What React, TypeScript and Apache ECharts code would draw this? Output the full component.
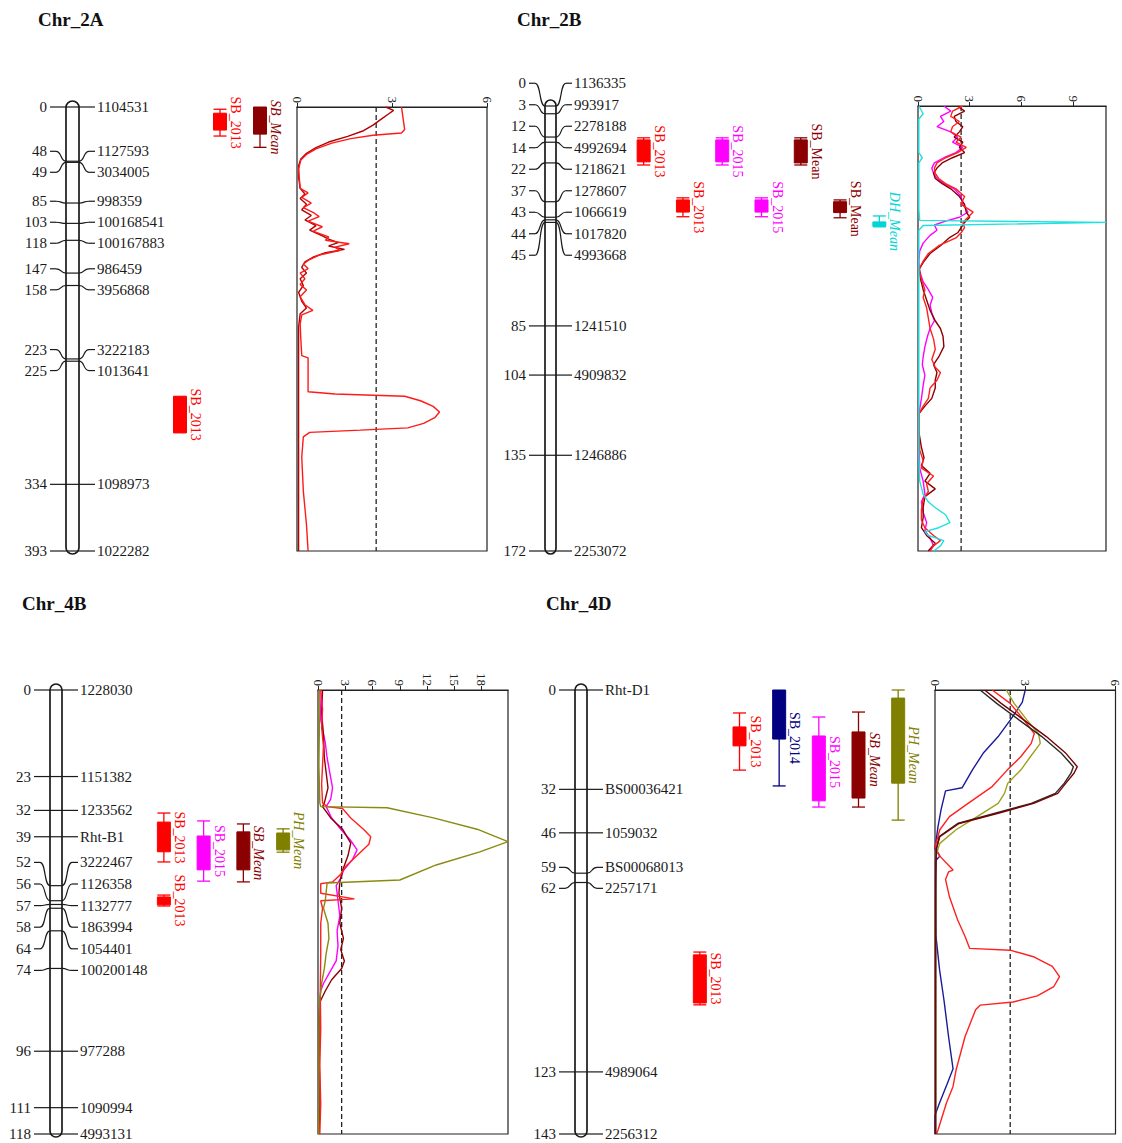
import React, { useEffect, useRef } from "react";
import * as echarts from "echarts";

const FONT = '"Liberation Serif", "Times New Roman", serif';

// ---------- chromosome maps (cM positions + marker names) ----------
const chr2A_pos = [0, 48, 49, 85, 103, 118, 147, 158, 223, 225, 334, 393];
const chr2A_names = ["1104531", "1127593", "3034005", "998359", "100168541", "100167883", "986459", "3956868", "3222183", "1013641", "1098973", "1022282"];
const chr2B_pos = [0, 3, 12, 14, 22, 37, 43, 44, 45, 85, 104, 135, 172];
const chr2B_names = ["1136335", "993917", "2278188", "4992694", "1218621", "1278607", "1066619", "1017820", "4993668", "1241510", "4909832", "1246886", "2253072"];
const chr4B_pos = [0, 23, 32, 39, 52, 56, 57, 58, 64, 74, 96, 111, 118];
const chr4B_names = ["1228030", "1151382", "1233562", "Rht-B1", "3222467", "1126358", "1132777", "1863994", "1054401", "100200148", "977288", "1090994", "4993131"];
const chr4D_pos = [0, 32, 46, 59, 62, 123, 143];
const chr4D_names = ["Rht-D1", "BS00036421", "1059032", "BS00068013", "2257171", "4989064", "2256312"];

// ---------- QTL intervals: [trait, column, whiskerLo, boxLo, boxHi, whiskerHi] (cM) ----------
const qtl2A = [
  ["SB_2013", 1, 2, 5.5, 20.4, 25.7],
  ["SB_Mean", 2, 0, 0, 24, 35.7],
  ["SB_2013", 0, 256, 256, 288.5, 288.5],
];
const qtl2B = [
  ["SB_2013", 0, 12.3, 13.1, 21.6, 22.8],
  ["SB_2013", 1, 35.5, 36.3, 41.0, 42.8],
  ["SB_2015", 2, 12.3, 13.1, 21.6, 22.8],
  ["SB_2015", 3, 35.5, 36.3, 41.0, 42.8],
  ["SB_Mean", 4, 12.3, 13.1, 22.0, 22.8],
  ["SB_Mean", 5, 36.3, 37.0, 41.2, 43.2],
  ["DH_Mean", 6, 42.5, 44.8, 46.5, 46.7],
];
const qtl4B = [
  ["SB_2013", 0, 32.7, 35.1, 43.0, 45.7],
  ["SB_2013", 0, 54.5, 55.0, 57.1, 57.4],
  ["SB_2015", 1, 34.8, 38.8, 47.8, 50.8],
  ["SB_Mean", 2, 35.6, 37.7, 47.8, 51.0],
  ["PH_Mean", 3, 36.9, 38.0, 42.5, 43.1],
];
const qtl4D = [
  ["SB_2013", 0, 7.4, 11.9, 18.0, 25.8],
  ["SB_2014", 1, 0, 0, 15.8, 30.9],
  ["SB_2015", 2, 8.7, 14.8, 35.7, 37.7],
  ["SB_Mean", 3, 7.1, 13.5, 34.8, 37.7],
  ["PH_Mean", 4, 0, 2.6, 30.0, 41.9],
  ["SB_2013", -1, 84.4, 85.3, 100.8, 101.4],
];

// ---------- LOD profiles: [cM, LOD] ----------
const lod2A_SB2013 = [[0,3.3],[10,3.35],[20,3.4],[23,3.3],[25,2.4],[28,1.7],[32,1.1],[37,0.6],[42,0.3],[47,0.12],[55,0.05],[65,0.08],[72,0.1],[76,0.35],[80,0.15],[85,0.45],[89,0.2],[94,0.55],[97,0.7],[101,0.35],[106,0.8],[110,0.5],[115,1.0],[118,0.9],[121,1.65],[124,1.2],[127,1.35],[131,0.7],[135,0.4],[139,0.2],[143,0.35],[147,0.1],[152,0.25],[157,0.1],[162,0.3],[168,0.1],[175,0.25],[180,0.5],[184,0.15],[192,0.1],[205,0.12],[220,0.15],[222,0.35],[252,0.35],[254,1.2],[256,3.4],[260,3.9],[265,4.3],[270,4.5],[275,4.35],[280,4.0],[284,3.5],[286,2.0],[288,0.4],[292,0.2],[310,0.15],[340,0.2],[370,0.3],[393,0.35]];
const lod2A_SBMean = [[0,2.8],[3,3.05],[6,2.9],[11,2.65],[16,2.4],[21,2.1],[26,1.6],[31,1.0],[36,0.6],[41,0.3],[46,0.12],[52,0.05],[62,0.05],[72,0.1],[77,0.25],[81,0.1],[86,0.3],[91,0.15],[96,0.45],[100,0.25],[105,0.6],[109,0.4],[114,0.8],[117,1.0],[120,1.3],[123,1.0],[126,1.5],[129,0.9],[133,0.5],[137,0.25],[142,0.15],[147,0.3],[152,0.1],[158,0.2],[164,0.05],[172,0.15],[178,0.3],[183,0.1],[195,0.05],[240,0.05],[300,0.05],[393,0.05]];

const lod2B_SB2013 = [[0,2.6],[2,2.0],[4,1.9],[6,2.4],[8,2.0],[10,1.9],[12,2.5],[14,2.2],[16,2.8],[18,2.3],[20,1.6],[22,1.1],[24,0.95],[26,1.0],[28,1.2],[30,1.6],[32,2.2],[35,2.7],[38,2.5],[41,3.2],[43,2.9],[45,2.6],[47,2.7],[49,2.5],[51,2.2],[54,1.2],[57,0.6],[60,0.3],[63,0.05],[67,0.2],[71,0.4],[74,0.3],[78,0.5],[82,0.6],[86,0.7],[90,0.9],[94,1.0],[98,0.8],[101,1.0],[103,1.3],[106,1.1],[109,0.7],[113,0.6],[116,0.3],[119,0.05],[126,0.05],[133,0.1],[137,0.3],[140,0.2],[143,0.9],[146,0.5],[149,0.6],[152,0.3],[156,0.2],[160,0.2],[163,0.4],[166,0.9],[168,1.3],[170,0.9],[172,0.7]];
const lod2B_SBMean = [[0,2.3],[2,2.7],[4,2.1],[6,2.2],[8,2.6],[10,2.4],[12,2.1],[14,2.6],[16,2.4],[18,2.7],[20,2.0],[22,1.4],[24,1.1],[26,0.9],[28,1.0],[30,1.4],[32,1.9],[35,2.4],[38,2.7],[41,2.8],[43,3.0],[45,2.7],[47,2.5],[49,2.3],[51,1.8],[54,1.3],[57,0.7],[60,0.35],[63,0.08],[67,0.15],[71,0.3],[75,0.5],[79,0.7],[83,1.0],[86,1.3],[89,1.45],[93,1.5],[97,1.2],[100,0.9],[103,1.1],[106,1.0],[109,1.0],[113,0.8],[116,0.4],[119,0.05],[126,0.05],[132,0.2],[136,0.35],[139,0.2],[142,0.7],[145,0.4],[148,1.0],[151,0.4],[155,0.3],[159,0.3],[163,0.2],[166,0.5],[169,1.0],[172,0.6]];
const lod2B_SB2015 = [[0,1.5],[2,1.9],[4,1.3],[6,1.5],[8,1.1],[10,1.9],[12,2.3],[14,2.0],[16,2.6],[18,2.2],[20,1.5],[22,0.95],[24,0.8],[26,0.9],[28,1.1],[30,1.5],[32,2.1],[35,2.5],[38,2.6],[41,2.9],[43,2.4],[44.5,1.6],[46,0.95],[48,1.1],[50,0.7],[53,0.3],[56,0.1],[60,0.05],[64,0.1],[68,0.3],[71,0.6],[74,0.85],[77,0.7],[80,0.8],[83,0.95],[86,0.7],[89,0.55],[93,0.4],[97,0.3],[100,0.25],[104,0.4],[108,0.3],[113,0.2],[119,0.05],[130,0.05],[140,0.1],[145,0.3],[150,0.4],[153,0.2],[157,0.3],[161,0.5],[164,0.4],[167,0.7],[170,0.9],[172,0.6]];
const lod2B_DHMean = [[0,0.05],[3,0.3],[5,0.05],[12,0.05],[18,0.05],[20,0.25],[22,0.05],[30,0.05],[40,0.05],[44.2,0.1],[45.0,10.9],[46.2,0.3],[48,0.05],[60,0.05],[80,0.05],[100,0.05],[120,0.05],[135,0.05],[145,0.1],[150,0.3],[153,0.6],[155,0.95],[158,1.6],[161,1.85],[163,1.2],[164.5,0.4],[166,0.6],[168,1.5],[170,1.3],[172,0.9]];

const lod4B_SB2013 = [[0,0.3],[5,0.5],[10,0.4],[15,0.6],[20,0.5],[25,0.4],[30,0.5],[31,1.0],[31.5,2.7],[34,3.6],[37,5.0],[39,5.8],[41,5.6],[44,4.3],[47,3.0],[49,2.5],[51,1.6],[51.5,0.3],[54,0.3],[55.5,4.0],[56,0.3],[58,0.5],[62,0.3],[70,0.3],[80,0.25],[90,0.3],[100,0.2],[110,0.3],[118,0.2]];
const lod4B_SB2015 = [[0,0.2],[8,0.3],[14,0.8],[18,1.0],[22,1.3],[26,1.6],[29,1.4],[31,0.9],[34,1.5],[37,2.5],[40,3.6],[42.5,4.3],[45,3.8],[48,2.8],[50,2.5],[52,2.0],[56,2.2],[60,2.4],[64,2.1],[68,2.2],[72,2.0],[75,1.3],[78,0.6],[80,0.3],[85,0.1],[100,0.1],[118,0.1]];
const lod4B_SBMean = [[0,0.5],[6,0.4],[12,0.6],[18,0.7],[22,0.9],[26,1.1],[30,0.7],[31,0.5],[34,1.4],[37,2.7],[40.7,3.6],[44,3.3],[48,2.7],[51,2.4],[54,2.3],[58,2.6],[62,2.4],[66,2.8],[69,2.5],[72,2.9],[74,2.6],[77,1.5],[80,0.8],[83,0.2],[90,0.1],[100,0.15],[110,0.2],[118,0.1]];
const lod4B_PHMean = [[0,0.1],[10,0.15],[20,0.1],[30,0.2],[31,0.3],[31.3,7.6],[34,12.7],[37,17.5],[40.3,20.9],[43,17.8],[46.5,13.0],[50.5,9.0],[51.3,1.0],[56,0.8],[58,0.6],[62,1.1],[66,1.2],[70,0.9],[74,0.7],[78,0.4],[83,0.15],[90,0.1],[100,0.1],[110,0.1],[118,0.05]];

const lod4D_SB2014 = [[0,3.0],[4,2.9],[9.7,2.5],[15,2.1],[20.4,1.6],[25.8,1.24],[31.5,0.9],[32.5,0.35],[38.6,0.2],[44,0.1],[51,0.0],[53.5,0.16],[55,0.02],[65,0.02],[79,0.03],[90,0.15],[100,0.3],[111.6,0.45],[122,0.6],[127,0.4],[133,0.15],[137,0.0],[143,0.0]];
const lod4D_SB2013 = [[0,1.9],[4.3,2.5],[9.7,2.96],[14,3.3],[17.2,3.2],[21.5,2.85],[25.8,2.4],[31.1,1.9],[36.5,1.1],[40.8,0.48],[45,0.16],[50.5,0.0],[53.5,0.16],[58,0.6],[58.6,0.45],[61,0.35],[66.6,0.48],[74,0.75],[79.4,1.0],[83.2,1.15],[83.8,2.5],[86,3.3],[89,3.9],[92.3,4.14],[95.5,3.95],[98.5,3.4],[100.5,2.6],[101.5,1.5],[103,1.35],[111.6,1.0],[122.4,0.7],[127.7,0.6],[133,0.38],[141.7,0.1],[143,0.05]];
const lod4D_PHMean = [[0,2.37],[4.3,2.63],[9.7,3.06],[14,3.44],[17.2,3.5],[21.5,3.17],[25.8,2.85],[30,2.42],[33.3,2.31],[36.5,2.1],[40.8,1.4],[45,0.7],[49.4,0.16],[53.7,0.02],[60,0.02],[80,0.02],[100,0.02],[120,0.02],[143,0.02]];
const lod4D_SBMean = [[0,1.65],[4.3,2.2],[9.7,2.96],[15,3.7],[20.4,4.35],[24.7,4.73],[26.8,4.62],[30,4.35],[33.3,4.08],[36.5,3.28],[39.7,2.1],[43,0.8],[47.2,0.16],[51,0.05],[55,0.03],[70,0.02],[100,0.02],[143,0.02]];
const lod4D_SB2015 = [[0,1.5],[4.3,2.05],[9.7,2.8],[15,3.55],[20.4,4.2],[24.7,4.6],[26.8,4.52],[30,4.3],[33.3,4.0],[36.5,3.2],[39.7,2.0],[43,0.75],[47.2,0.14],[51,0.05],[60,0.02],[100,0.02],[143,0.02]];

const QTL_COLORS: Record<string, string> = {
  SB_2013: "#ff0000",
  SB_2014: "#000080",
  SB_2015: "#ff00ff",
  SB_Mean: "#8b0000",
  PH_Mean: "#808000",
  DH_Mean: "#00d5d5",
};

// ---------- layout (pixels) ----------
const panels = [
  {
    title: "Chr_2A", tx: 38, ty: 10, length: 393, top: 107, height: 444,
    chrL: 66, chrW: 13, gap: 21, pos: chr2A_pos, names: chr2A_names,
    qtl: qtl2A, qLeft: 160, qWidth: 120, qMin: -0.5, qMax: 2.5, italic: ["SB_Mean"],
    lLeft: 297, lWidth: 190, lMax: 6, thr: 2.5, showMax: true,
    lods: [
      { d: lod2A_SBMean, c: "#b00000" },
      { d: lod2A_SB2013, c: "#ff1a1a" },
    ],
  },
  {
    title: "Chr_2B", tx: 517, ty: 10, length: 172, top: 106, height: 445,
    chrL: 545, chrW: 11, gap: 21.5, pos: chr2B_pos, names: chr2B_names,
    qtl: qtl2B, qLeft: 624, qWidth: 275, qMin: -0.5, qMax: 6.5, italic: ["DH_Mean"],
    lLeft: 918, lWidth: 188, lMax: 10.9, thr: 2.5, showMax: false,
    lods: [
      { d: lod2B_SB2015, c: "#ff00ff" },
      { d: lod2B_SBMean, c: "#8b0000" },
      { d: lod2B_SB2013, c: "#ff2020" },
      { d: lod2B_DHMean, c: "#20e0e0" },
    ],
  },
  {
    title: "Chr_4B", tx: 22, ty: 594, length: 118, top: 690, height: 444,
    chrL: 50, chrW: 12, gap: 21.6, pos: chr4B_pos, names: chr4B_names,
    qtl: qtl4B, qLeft: 144, qWidth: 159, qMin: -0.5, qMax: 3.5, italic: ["SB_Mean", "PH_Mean"],
    lLeft: 318, lWidth: 190, lMax: 20.9, thr: 2.6, showMax: false,
    lods: [
      { d: lod4B_SB2015, c: "#ff00ff" },
      { d: lod4B_SBMean, c: "#8b0000" },
      { d: lod4B_SB2013, c: "#ff2020" },
      { d: lod4B_PHMean, c: "#8a8a10" },
    ],
  },
  {
    title: "Chr_4D", tx: 546, ty: 594, length: 143, top: 690, height: 444,
    chrL: 575, chrW: 12, gap: 21, pos: chr4D_pos, names: chr4D_names,
    qtl: qtl4D, qLeft: 680, qWidth: 238, qMin: -1.5, qMax: 4.5, italic: ["SB_Mean", "PH_Mean"],
    lLeft: 935, lWidth: 187, lMax: 6, thr: 2.5, showMax: true,
    lods: [
      { d: lod4D_SB2014, c: "#1a1a9a" },
      { d: lod4D_SB2013, c: "#ff2020" },
      { d: lod4D_PHMean, c: "#a0a020" },
      { d: lod4D_SB2015, c: "#2a2a2a" },
      { d: lod4D_SBMean, c: "#7a0000" },
    ],
  },
];

function spread(ys: number[], gap: number): number[] {
  let clusters = ys.map((y, i) => ({ s: i, e: i, sum: y }));
  let merged = true;
  while (merged) {
    merged = false;
    for (let k = 0; k < clusters.length - 1; k++) {
      const a = clusters[k], b = clusters[k + 1];
      const na = a.e - a.s + 1, nb = b.e - b.s + 1;
      const aBottom = a.sum / na + ((na - 1) * gap) / 2;
      const bTop = b.sum / nb - ((nb - 1) * gap) / 2;
      if (bTop - aBottom < gap) {
        clusters.splice(k, 2, { s: a.s, e: b.e, sum: a.sum + b.sum });
        merged = true;
        break;
      }
    }
  }
  const out: number[] = [];
  clusters.forEach((c) => {
    const n = c.e - c.s + 1;
    const top = c.sum / n - ((n - 1) * gap) / 2;
    for (let i = 0; i < n; i++) out.push(top + i * gap);
  });
  return out;
}

function txt(x: number, y: number, text: string, align: string, extra: any = {}) {
  return {
    type: "text",
    x, y,
    style: {
      text, fill: "#1a1a1a", fontSize: 15, fontFamily: FONT,
      align, textAlign: align, verticalAlign: "middle", textVerticalAlign: "middle",
      ...extra,
    },
  };
}

function buildOption() {
  const grid: any[] = [], xAxis: any[] = [], yAxis: any[] = [], series: any[] = [], graphic: any[] = [];
  panels.forEach((p, pi) => {
    const gC = pi * 3, gQ = pi * 3 + 1, gL = pi * 3 + 2;
    grid.push({ left: p.chrL, top: p.top, width: p.chrW, height: p.height });
    grid.push({ left: p.qLeft, top: p.top, width: p.qWidth, height: p.height });
    grid.push({ left: p.lLeft, top: p.top, width: p.lWidth, height: p.height, show: true, borderColor: "#222", borderWidth: 1.2, backgroundColor: "transparent" });
    xAxis.push({ gridIndex: gC, type: "value", min: 0, max: 1, show: false });
    xAxis.push({ gridIndex: gQ, type: "value", min: p.qMin, max: p.qMax, show: false });
    xAxis.push({
      gridIndex: gL, type: "value", min: 0, max: p.lMax, interval: 3, position: "top",
      axisLine: { show: true, lineStyle: { color: "#222", width: 1.2 } },
      axisTick: { show: true, length: 4, lineStyle: { color: "#222" } },
      axisLabel: { rotate: -90, fontSize: 13, fontFamily: FONT, color: "#222", margin: 4, showMaxLabel: p.showMax },
      splitLine: { show: false },
    });
    [gC, gQ, gL].forEach((g) => yAxis.push({ gridIndex: g, type: "value", min: 0, max: p.length, inverse: true, show: false }));

    // chromosome body
    series.push({
      type: "custom", xAxisIndex: gC, yAxisIndex: gC, clip: false, silent: true, z: 2,
      data: [[0, 0]],
      renderItem: (params: any, api: any) => {
        const a = api.coord([0, 0]);
        const b = api.coord([1, p.length]);
        const w = b[0] - a[0];
        return {
          type: "rect",
          shape: { x: a[0], y: a[1] - 6, width: w, height: b[1] - a[1] + 9, r: w / 2 },
          style: { fill: "#fff", stroke: "#1a1a1a", lineWidth: 1.7 },
        };
      },
    });
    // markers
    series.push({
      type: "custom", xAxisIndex: gC, yAxisIndex: gC, clip: false, silent: true, z: 3,
      data: p.pos.map((v) => [0, v]),
      renderItem: (params: any, api: any) => {
        const i = params.dataIndex;
        const xs = api.coord([0, 0])[0];
        const xe = api.coord([1, 0])[0];
        const ys = p.pos.map((v) => api.coord([0, v])[1]);
        const ls = spread(ys, p.gap);
        const ty = ys[i], ly = ls[i];
        const st = { stroke: "#1a1a1a", lineWidth: 1.2, fill: "none" };
        const children: any[] = [
          { type: "line", shape: { x1: xs - 16, y1: ly, x2: xs - 10, y2: ly }, style: st },
          { type: "bezierCurve", shape: { x1: xs - 10, y1: ly, x2: xs, y2: ty, cpx1: xs - 4, cpy1: ly, cpx2: xs - 6, cpy2: ty }, style: st },
          { type: "line", shape: { x1: xs, y1: ty, x2: xe, y2: ty }, style: st },
          { type: "bezierCurve", shape: { x1: xe, y1: ty, x2: xe + 10, y2: ly, cpx1: xe + 6, cpy1: ty, cpx2: xe + 4, cpy2: ly }, style: st },
          { type: "line", shape: { x1: xe + 10, y1: ly, x2: xe + 16, y2: ly }, style: st },
          txt(xs - 19, ly, String(p.pos[i]), "right"),
          txt(xe + 18, ly, p.names[i], "left"),
        ];
        return { type: "group", children };
      },
    });
    // QTL boxes
    series.push({
      type: "custom", xAxisIndex: gQ, yAxisIndex: gQ, clip: false, silent: true, z: 3,
      data: p.qtl.map((q) => [q[1], q[2], q[3], q[4], q[5]]),
      encode: { x: 0, y: [1, 2, 3, 4] },
      renderItem: (params: any, api: any) => {
        const q = p.qtl[params.dataIndex] as any[];
        const label = q[0] as string;
        const col = q[1] as number;
        const c = QTL_COLORS[label];
        const x = api.coord([col, 0])[0];
        const Y = (v: number) => api.coord([col, v])[1];
        const yWL = Y(q[2]), yBL = Y(q[3]), yBH = Y(q[4]), yWH = Y(q[5]);
        const hw = 6.5;
        const st = { stroke: c, lineWidth: 1.3, fill: "none" };
        const children: any[] = [
          { type: "line", shape: { x1: x, y1: yWL, x2: x, y2: yWH }, style: st },
        ];
        if (yBL - yWL > 0.5) children.push({ type: "line", shape: { x1: x - hw, y1: yWL, x2: x + hw, y2: yWL }, style: st });
        if (yWH - yBH > 0.5) children.push({ type: "line", shape: { x1: x - hw, y1: yWH, x2: x + hw, y2: yWH }, style: st });
        children.push({ type: "rect", shape: { x: x - hw, y: yBL, width: hw * 2, height: Math.max(yBH - yBL, 2) }, style: { fill: c, stroke: c, lineWidth: 1 } });
        children.push({
          type: "text", x: x + hw + 2, y: (yWL + yWH) / 2, rotation: -Math.PI / 2,
          style: {
            text: label, fill: c, fontSize: 14, fontFamily: FONT,
            fontStyle: p.italic.indexOf(label) >= 0 ? "italic" : "normal",
            align: "center", textAlign: "center", verticalAlign: "bottom", textVerticalAlign: "bottom",
          },
        });
        return { type: "group", children };
      },
    });
    // threshold
    series.push({
      type: "line", xAxisIndex: gL, yAxisIndex: gL, silent: true, symbol: "none", z: 3,
      data: [[p.thr, 0], [p.thr, p.length]],
      lineStyle: { color: "#222", width: 1.3, type: [5, 3] },
    });
    // LOD curves
    p.lods.forEach((l, li) => {
      series.push({
        type: "line", xAxisIndex: gL, yAxisIndex: gL, silent: true, symbol: "none", showSymbol: false, z: 4 + li,
        data: l.d.map((pt) => [pt[1], pt[0]]),
        lineStyle: { color: l.c, width: 1.4 }, itemStyle: { color: l.c },
      });
    });
    graphic.push({ type: "text", left: p.tx, top: p.ty, style: { text: p.title, fill: "#111", font: `bold 19px ${FONT}` } });
  });
  return { animation: false, backgroundColor: "#fff", grid, xAxis, yAxis, series, graphic };
}

export default function App() {
  const ref = useRef<HTMLDivElement>(null);
  useEffect(() => {
    if (!ref.current) return;
    const chart = echarts.init(ref.current, undefined, { renderer: "svg" });
    chart.setOption(buildOption() as any);
    return () => chart.dispose();
  }, []);
  return <div ref={ref} style={{ position: "absolute", left: 0, top: 0, width: 1122, height: 1143, background: "#fff" }} />;
}
